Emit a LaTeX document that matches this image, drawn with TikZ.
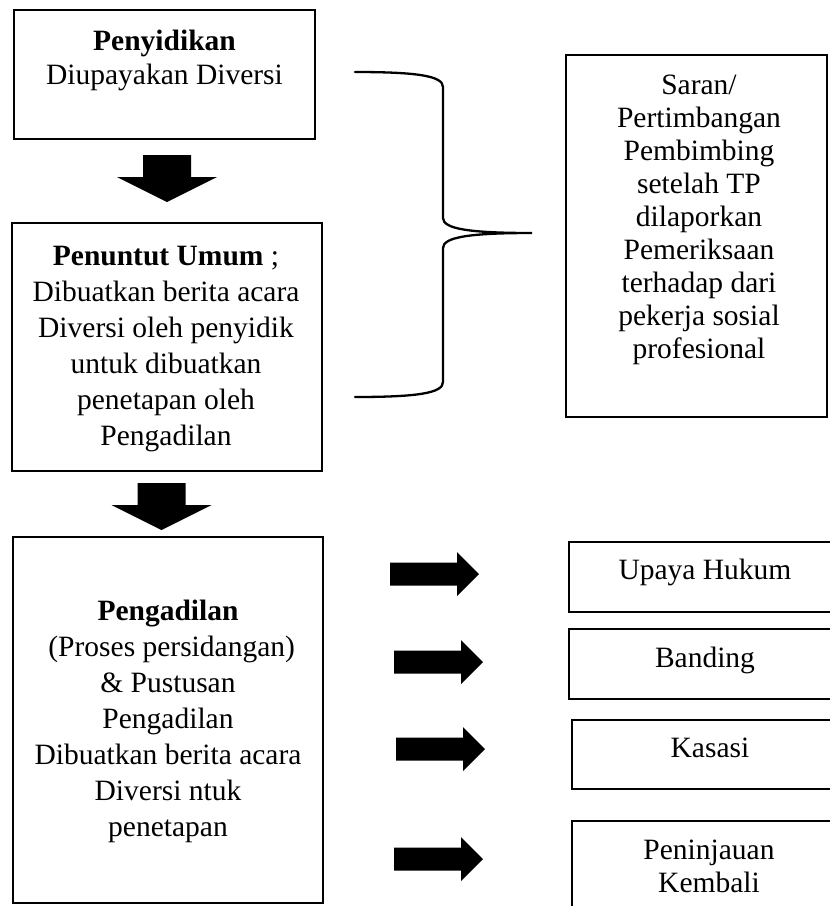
\documentclass[tikz,border=0pt]{standalone}
\usepackage{fontspec}
\setmainfont{Liberation Serif}
\begin{document}
\begin{tikzpicture}[x=1pt,y=-1pt,
  box/.style={draw, line width=2.6pt, rectangle, inner sep=0pt},
  txt/.style={align=center, inner sep=0pt, font=\fontsize{29.5}{36}\selectfont},
  txtA/.style={align=center, inner sep=0pt, font=\fontsize{29.5}{34}\selectfont},
  stxt/.style={align=center, inner sep=0pt, font=\fontsize{29.5}{33}\selectfont},
  brace/.style={line width=2.3pt, line cap=round},
  downarr/.pic={\fill (-24,0) -- (24,0) -- (24,22) -- (50,22) -- (0,47) -- (-50,22) -- (-24,22) -- cycle;},
  rightarr/.pic={\fill (0,-11.5) -- (67,-11.5) -- (67,-22) -- (89,0) -- (67,22) -- (67,11.5) -- (0,11.5) -- cycle;}
]
\useasboundingbox (0,0) rectangle (830,906);
\clip (0,0) rectangle (830,906);

% left column boxes
\node[box, minimum width=301pt, minimum height=129pt] (b1) at (164.5,74.5) {};
\node[box, minimum width=310pt, minimum height=248pt] (b2) at (167,347) {};
\node[box, minimum width=310pt, minimum height=366pt] (b3) at (168,720) {};

\node[txtA] (t1) at (164.5,60) {\textbf{Penyidikan}\\Diupayakan Diversi};
\node[txt] (t2) at (166,349) {\textbf{Penuntut Umum} ;\\Dibuatkan berita acara\\Diversi oleh penyidik\\untuk dibuatkan\\penetapan oleh\\Pengadilan};
\node[txt] (t3) at (168,721) {\textbf{Pengadilan}\\\ (Proses persidangan)\\\& Pustusan\\Pengadilan\\Dibuatkan berita acara\\Diversi ntuk\\penetapan};

% down block arrows
\pic (d1) at (167,155) {downarr};
\pic (d2) at (161.5,483) {downarr};

% brace
\coordinate (brTop) at (355,72);
\coordinate (brTip) at (532,233);
\coordinate (brBot) at (355,397);
\draw[brace] (brTop) .. controls (418,72) and (443,76) .. (443,87)
  -- (443,218) .. controls (443,229) and (470,233) .. (brTip)
  .. controls (470,233) and (443,237) .. (443,248)
  -- (443,382) .. controls (443,393) and (418,397) .. (brBot);

% Saran box
\node[box, minimum width=261pt, minimum height=362pt] (saran) at (696.5,236) {};
\node[stxt] (ts) at (699,220) {Saran/\\Pertimbangan\\Pembimbing\\setelah TP\\dilaporkan\\Pemeriksaan\\terhadap dari\\pekerja sosial\\profesional};

% right column boxes
\node[box, minimum width=291pt, minimum height=70pt] (upaya) at (714.5,577) {};
\node[box, minimum width=291pt, minimum height=70pt] (banding) at (714.5,664) {};
\node[box, minimum width=288pt, minimum height=69pt] (kasasi) at (716,754.5) {};
\node[box, minimum width=288pt, minimum height=139pt] (pk) at (716,890.5) {};

\node[stxt] (tu) at (705,572) {Upaya Hukum};
\node[stxt] (tb) at (705,660) {Banding};
\node[stxt] (tk) at (710,748) {Kasasi};
\node[stxt] (tp) at (709,866.5) {Peninjauan\\Kembali};

% right block arrows
\pic (r1) at (390,574) {rightarr};
\pic (r2) at (394,662) {rightarr};
\pic (r3) at (396,749) {rightarr};
\pic (r4) at (394,859) {rightarr};
\end{tikzpicture}
\end{document}
